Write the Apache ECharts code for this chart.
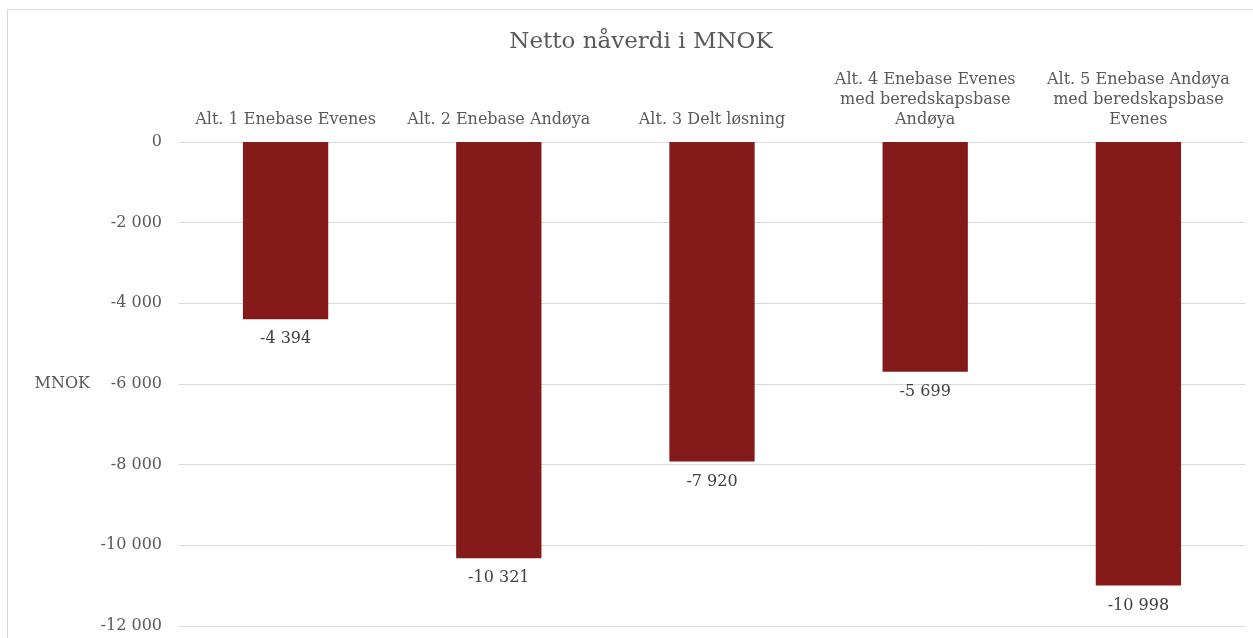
<!DOCTYPE html>
<html>
<head>
<meta charset="utf-8">
<script src="https://cdn.jsdelivr.net/npm/echarts@6/dist/echarts.min.js"></script>
<style>
  html, body { margin: 0; padding: 0; background: #fff; }
  #chart { width: 1253px; height: 638px; }
  .frame { position: absolute; left: 7px; top: 9px; width: 1260px; height: 640px; border: 1px solid #d9d9d9; box-sizing: border-box; pointer-events: none; }
</style>
</head>
<body>
<div id="chart"></div>
<div class="frame"></div>
<script>
// kategorier og verdier (MNOK)
var categories = [
  'Alt. 1 Enebase Evenes',
  'Alt. 2 Enebase Andøya',
  'Alt. 3 Delt løsning',
  'Alt. 4 Enebase Evenes\nmed beredskapsbase\nAndøya',
  'Alt. 5 Enebase Andøya\nmed beredskapsbase\nEvenes'
];
var values = [-4394, -10321, -7920, -5699, -10998];
var yTicks = { min: -12000, max: 0, interval: 2000 };

// tall med mellomrom som tusenskille
function fmt(v) {
  var s = String(Math.abs(Math.round(v))).replace(/\B(?=(\d{3})+(?!\d))/g, ' ');
  return (v < 0 ? '-' : '') + s;
}

var fontFam = '"DejaVu Serif", "Liberation Serif", serif';
var chart = echarts.init(document.getElementById('chart'));
chart.setOption({
  animation: false,
  textStyle: { fontFamily: fontFam },
  title: {
    text: 'Netto nåverdi i MNOK',
    left: 636,
    top: 26,
    textAlign: 'center',
    textStyle: { fontFamily: fontFam, fontSize: 23, fontWeight: 'normal', color: '#595959' }
  },
  grid: { left: 179, right: 8, top: 142, bottom: 12, containLabel: false },
  xAxis: {
    type: 'category',
    position: 'top',
    data: categories,
    axisLine: { show: false },
    axisTick: { show: false },
    axisLabel: {
      interval: 0,
      margin: 12,
      fontSize: 16,
      lineHeight: 20,
      color: '#595959',
      align: 'center'
    }
  },
  yAxis: {
    type: 'value',
    min: yTicks.min,
    max: yTicks.max,
    interval: yTicks.interval,
    name: 'MNOK',
    nameLocation: 'middle',
    nameRotate: 0,
    nameGap: 89,
    nameTextStyle: { fontFamily: fontFam, fontSize: 16, color: '#595959' },
    axisLine: { show: false },
    axisTick: { show: false },
    splitLine: { lineStyle: { color: '#d9d9d9', width: 1 } },
    axisLabel: {
      fontSize: 16,
      color: '#595959',
      margin: 17,
      formatter: fmt
    }
  },
  series: [{
    type: 'bar',
    data: values,
    barWidth: '40%',
    itemStyle: { color: '#851A1A' },
    label: {
      show: true,
      position: 'bottom',
      distance: 12,
      fontSize: 16,
      color: '#404040',
      formatter: function (p) { return fmt(p.value); }
    }
  }]
});
</script>
</body>
</html>
